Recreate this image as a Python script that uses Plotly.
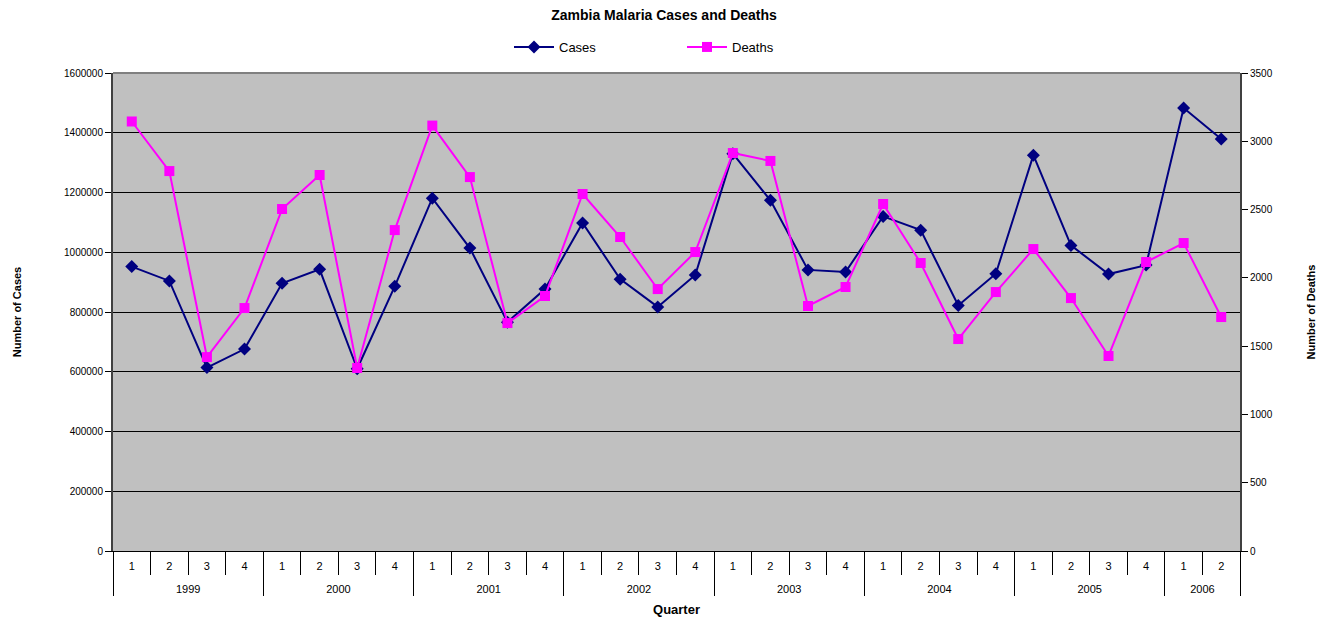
import plotly.graph_objects as go

years = ["1999"] * 4 + ["2000"] * 4 + ["2001"] * 4 + ["2002"] * 4 + ["2003"] * 4 + ["2004"] * 4 + ["2005"] * 4 + ["2006"] * 2
quarters = ["1", "2", "3", "4"] * 7 + ["1", "2"]

cases = [952000, 904000, 614000, 676000, 896000, 943000, 610000, 886000,
         1181000, 1014000, 766000, 877000, 1098000, 910000, 817000, 924000,
         1330000, 1174000, 941000, 934000, 1120000, 1074000, 822000, 928000,
         1325000, 1023000, 927000, 957000, 1483000, 1379000]

deaths = [3145, 2782, 1420, 1779, 2504, 2753, 1340, 2350,
          3115, 2738, 1669, 1867, 2614, 2299, 1918, 2189,
          2914, 2856, 1794, 1933, 2541, 2109, 1552, 1896,
          2211, 1852, 1428, 2116, 2255, 1713]

FONT = "Liberation Sans, Arial, sans-serif"

# quarter labels get an empty second line so the year row sits lower, as in the original
q_labels = [q + "<br> " for q in quarters]

fig = go.Figure()
fig.add_trace(go.Scatter(
    x=[years, q_labels], y=cases, name="Cases", mode="lines+markers",
    line=dict(color="#000080", width=2),
    marker=dict(symbol="diamond", size=10, color="#000080"),
    yaxis="y"))
fig.add_trace(go.Scatter(
    x=[years, q_labels], y=deaths, name="Deaths", mode="lines+markers",
    line=dict(color="#FF00FF", width=2),
    marker=dict(symbol="square", size=10, color="#FF00FF"),
    yaxis="y2"))

fig.update_layout(
    width=1328, height=618,
    margin=dict(l=113, r=88, t=73, b=67, autoexpand=False),
    paper_bgcolor="white", plot_bgcolor="#C0C0C0",
    font=dict(family=FONT, size=10, color="black"),
    title=dict(text="<b>Zambia Malaria Cases and Deaths</b>", x=0.5, xanchor="center",
               y=1 - 15 / 618, yanchor="middle", font=dict(size=14, family=FONT)),
    legend=dict(orientation="h", x=(509 - 113) / 1127, xanchor="left",
                y=1 + (73 - 47) / 478, yanchor="middle",
                font=dict(size=13, family=FONT), itemwidth=40, bgcolor="rgba(0,0,0,0)",
                entrywidth=118),
    showlegend=True,
    xaxis=dict(type="multicategory", range=[-0.5, 29.5], showline=True, linecolor="black",
               linewidth=1, mirror=False, ticks="outside", tickson="boundaries", ticklen=23,
               tickcolor="black", showdividers=True, dividercolor="black", dividerwidth=1,
               ticklabelstandoff=5,
               tickfont=dict(size=11, family=FONT), showgrid=False,
               title=dict(text="<b>Quarter</b>", font=dict(size=13, family=FONT), standoff=10)),
    yaxis=dict(range=[0, 1600000], dtick=200000, tickformat="d", showgrid=True,
               gridcolor="black", gridwidth=1, zeroline=False, showline=True,
               linecolor="#404040", linewidth=2, ticks="outside", ticklen=6,
               tickcolor="black", tickfont=dict(size=10, family=FONT),
               title=dict(text="<b>Number of Cases</b>", font=dict(size=11, family=FONT), standoff=40)),
    yaxis2=dict(range=[0, 3500], dtick=500, overlaying="y", side="right", showgrid=False,
                zeroline=False, showline=True, linecolor="#404040", linewidth=2,
                ticks="outside", ticklen=6, tickcolor="black",
                tickfont=dict(size=10, family=FONT),
                title=dict(text="<b>Number of Deaths</b>", font=dict(size=11, family=FONT), standoff=36)),
)

# top border of plot area
fig.add_shape(type="line", xref="paper", yref="paper", x0=0, x1=1, y0=1, y1=1,
              line=dict(color="#808080", width=2))

fig.write_html("out.html", config={"displayModeBar": False},
               post_script="document.body.style.margin='0';")
